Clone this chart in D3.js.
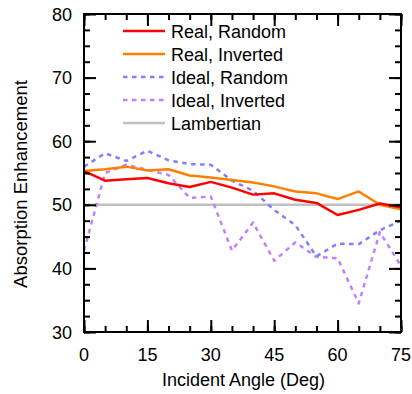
<!DOCTYPE html>
<html><head><meta charset="utf-8">
<script src="https://cdn.jsdelivr.net/npm/d3@7"></script>
<style>body{margin:0;background:#fff;} svg{display:block;font-family:"Liberation Sans",Arial,sans-serif;}</style>
</head><body><svg id="c" width="412" height="394"></svg>
<script>
const angles = [0,5,10,15,20,25,30,35,40,45,50,55,60,65,70,75];
const realRandom   = [55.3,53.8,54.0,54.2,53.4,52.8,53.6,52.7,51.6,51.8,50.8,50.3,48.4,49.2,50.2,49.6];
const realInverted = [55.3,55.6,56.0,55.4,55.6,54.6,54.3,53.9,53.5,52.9,52.1,51.8,50.9,52.1,50.0,49.3];
const idealRandom  = [56.0,58.1,56.9,58.5,57.0,56.4,56.3,53.8,52.2,49.2,46.8,41.9,43.9,43.8,46.0,47.5];
const idealInverted= [42.8,55.0,56.3,55.5,54.7,51.1,51.3,42.8,47.2,41.2,44.1,41.8,41.6,34.5,45.7,40.4];
const lambertian   = [50,50];
const lambertianX  = [0,75];
const seriesNames = ["Real, Random","Real, Inverted","Ideal, Random","Ideal, Inverted","Lambertian"];
const xTicks = [0,15,30,45,60,75];
const yTicks = [30,40,50,60,70,80];

const W=412,H=394, m={l:84,r:11,t:14,b:62};
const svg=d3.select("#c");
const x=d3.scaleLinear().domain([0,75]).range([m.l,W-m.r]);
const y=d3.scaleLinear().domain([30,80]).range([H-m.b,m.t]);

const styles=[
 {c:"#ff0000",d:null},
 {c:"#ff8000",d:null},
 {c:"#8080ff",d:"4.5,4.5"},
 {c:"#c080ff",d:"4.5,4.5"},
 {c:"#c0c0c0",d:null}
];
const data=[realRandom,realInverted,idealRandom,idealInverted];
const line=d3.line().x((d,i)=>x(angles[i])).y(d=>y(d));

// Lambertian
svg.append("path").datum(lambertian)
 .attr("d",d3.line().x((d,i)=>x(lambertianX[i])).y(d=>y(d)))
 .attr("fill","none").attr("stroke",styles[4].c).attr("stroke-width",2.5);

// draw order: ideal first then real
[3,2,1,0].forEach(k=>{
 svg.append("path").datum(data[k]).attr("d",line)
  .attr("fill","none").attr("stroke",styles[k].c).attr("stroke-width",2.5)
  .attr("stroke-dasharray",styles[k].d).attr("stroke-linejoin","round");
});

// axes with inside ticks
function ax(axisGen, transform, isMajorLabels){
 const g=svg.append("g").attr("transform",transform).call(axisGen);
 g.select(".domain").remove();
 g.selectAll("line").attr("stroke","#000").attr("stroke-width",2);
 return g;
}
const xMinor=d3.range(0,76,5), yMinor=d3.range(30,80.1,2.5);
// bottom
ax(d3.axisTop(x).tickValues(xMinor).tickSize(6).tickFormat(""),`translate(0,${H-m.b})`);
ax(d3.axisTop(x).tickValues(xTicks).tickSize(12).tickFormat(""),`translate(0,${H-m.b})`);
// top
ax(d3.axisBottom(x).tickValues(xMinor).tickSize(6).tickFormat(""),`translate(0,${m.t})`);
ax(d3.axisBottom(x).tickValues(xTicks).tickSize(12).tickFormat(""),`translate(0,${m.t})`);
// left
ax(d3.axisRight(y).tickValues(yMinor).tickSize(6).tickFormat(""),`translate(${m.l},0)`);
ax(d3.axisRight(y).tickValues(yTicks).tickSize(12).tickFormat(""),`translate(${m.l},0)`);
// right
ax(d3.axisLeft(y).tickValues(yMinor).tickSize(6).tickFormat(""),`translate(${W-m.r},0)`);
ax(d3.axisLeft(y).tickValues(yTicks).tickSize(12).tickFormat(""),`translate(${W-m.r},0)`);

// frame
svg.append("rect").attr("x",m.l).attr("y",m.t).attr("width",W-m.l-m.r).attr("height",H-m.t-m.b)
 .attr("fill","none").attr("stroke","#000").attr("stroke-width",2);

// tick labels
svg.append("g").selectAll("text").data(xTicks).join("text")
 .attr("x",d=>x(d)).attr("y",H-m.b+29).attr("text-anchor","middle")
 .attr("font-size",18).attr("fill","#000").text(d=>d);
svg.append("g").selectAll("text").data(yTicks).join("text")
 .attr("x",m.l-12).attr("y",d=>y(d)+6.5).attr("text-anchor","end")
 .attr("font-size",18).attr("fill","#000").text(d=>d);

// axis titles
svg.append("text").attr("x",(m.l+W-m.r)/2+1).attr("y",386).attr("text-anchor","middle")
 .attr("font-size",18).attr("fill","#000").text("Incident Angle (Deg)");
svg.append("text").attr("transform",`translate(27,184) rotate(-90)`).attr("text-anchor","middle")
 .attr("font-size",18.5).attr("fill","#000").text("Absorption Enhancement");

// legend
const lg=svg.append("g");
seriesNames.forEach((n,i)=>{
 const yy=31+i*23;
 lg.append("line").attr("x1",123).attr("x2",165).attr("y1",yy).attr("y2",yy)
  .attr("stroke",styles[i].c).attr("stroke-width",2.5).attr("stroke-dasharray",styles[i].d);
 lg.append("text").attr("x",171).attr("y",yy+6.5).attr("font-size",18).attr("fill","#000").text(n);
});
</script></body></html>
